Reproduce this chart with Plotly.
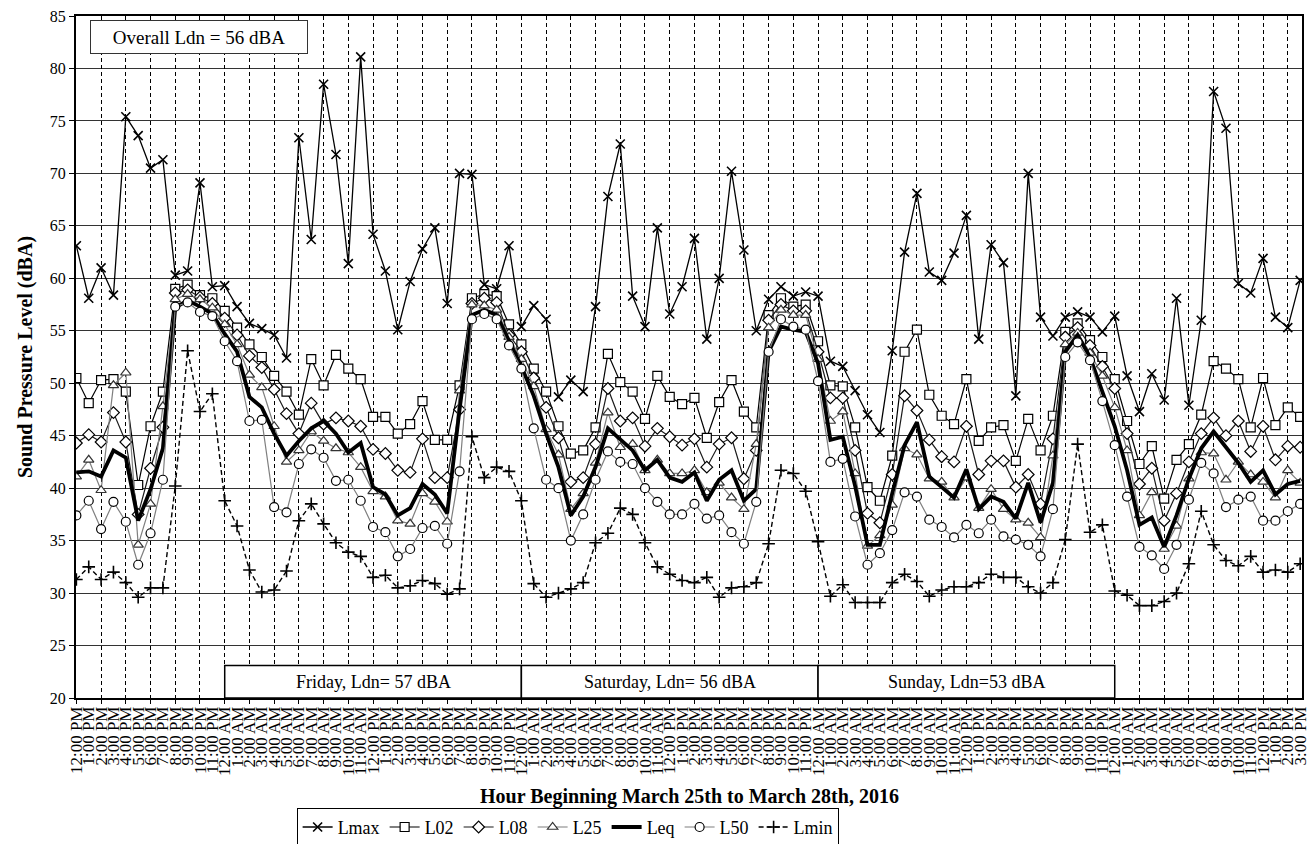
import plotly.graph_objects as go

# ---------------- data ----------------
hours = ["12:00 PM"] + [f"{h}:00 PM" for h in range(1, 12)] + ["12:00 AM"] + [f"{h}:00 AM" for h in range(1, 12)]
x_labels = (hours * 5)[:100]

lmax = [63.1, 58.1, 61.0, 58.4, 75.4, 73.6, 70.5, 71.3, 60.3, 60.7,
        69.1, 59.2, 59.3, 57.3, 55.7, 55.2, 54.6, 52.4, 73.4, 63.7,
        78.5, 71.8, 61.4, 81.1, 64.2, 60.7, 55.1, 59.7, 62.8, 64.8,
        57.6, 70.0, 69.9, 59.4, 59.0, 63.1, 55.4, 57.4, 56.1, 48.7,
        50.3, 49.2, 57.3, 67.8, 72.8, 58.3, 55.4, 64.8, 56.6, 59.2,
        63.8, 54.2, 60.0, 70.2, 62.7, 55.0, 58.0, 59.2, 58.3, 58.7,
        58.3, 52.1, 51.6, 49.3, 47.0, 45.3, 53.1, 62.5, 68.1, 60.6,
        59.8, 62.4, 66.0, 54.2, 63.2, 61.5, 48.8, 70.0, 56.3, 54.5,
        56.3, 56.8, 56.3, 54.9, 56.4, 50.7, 47.3, 50.9, 48.4, 58.1,
        47.9, 56.0, 77.8, 74.3, 59.5, 58.6, 61.9, 56.3, 55.3, 59.8]

l02 = [50.5, 48.1, 50.3, 50.4, 49.2, 40.3, 45.9, 49.2, 59.0, 59.4,
       58.4, 58.1, 56.9, 55.3, 53.7, 52.5, 50.7, 49.2, 47.0, 52.3,
       49.8, 52.7, 51.4, 50.4, 46.8, 46.8, 45.2, 46.1, 48.3, 44.6,
       44.6, 49.8, 58.1, 58.5, 58.3, 55.6, 53.7, 51.4, 49.2, 45.9,
       43.3, 43.6, 45.8, 52.8, 50.1, 49.2, 46.6, 50.7, 48.7, 48.0,
       48.6, 44.8, 48.2, 50.3, 47.3, 45.8, 56.5, 58.1, 57.3, 57.5,
       54.0, 49.8, 49.7, 45.8, 40.1, 38.8, 43.1, 53.0, 55.1, 48.9,
       46.9, 46.1, 50.4, 44.5, 45.8, 46.0, 42.6, 46.6, 43.6, 46.9,
       54.9, 55.7, 54.1, 52.5, 50.4, 46.4, 42.3, 44.0, 39.0, 42.7,
       44.2, 47.0, 52.1, 51.4, 50.4, 45.8, 50.5, 46.0, 47.7, 46.8]

l08 = [44.3, 45.1, 44.4, 47.2, 44.4, 37.5, 41.9, 45.8, 58.6, 58.9,
       58.2, 57.6, 56.2, 54.6, 52.6, 51.5, 49.4, 47.1, 45.2, 48.1,
       46.1, 46.7, 46.4, 45.9, 43.7, 43.3, 41.7, 41.5, 44.7, 41.0,
       41.0, 47.5, 57.6, 58.1, 57.7, 54.6, 53.0, 50.5, 47.7, 44.8,
       40.6, 41.0, 44.2, 49.5, 46.4, 46.7, 44.0, 45.7, 44.9, 44.1,
       44.7, 42.0, 44.2, 44.8, 40.9, 43.6, 56.0, 57.5, 56.9, 56.9,
       53.0, 48.6, 48.6, 43.6, 37.6, 36.7, 41.3, 48.8, 47.4, 44.6,
       43.0, 42.5, 45.9, 41.3, 42.6, 42.6, 40.1, 41.3, 38.5, 44.7,
       54.4, 55.3, 53.6, 51.6, 49.5, 45.2, 40.4, 41.9, 36.9, 39.5,
       42.5, 45.2, 46.7, 45.0, 46.4, 43.5, 45.9, 42.7, 44.0, 43.9]

l25 = [41.1, 42.7, 39.8, 49.8, 51.0, 34.6, 38.5, 47.8, 58.0, 58.5,
       58.0, 57.2, 55.6, 53.7, 50.8, 49.6, 45.9, 42.5, 43.6, 45.4,
       44.5, 43.8, 43.4, 42.0, 39.7, 39.2, 36.9, 36.6, 39.5, 38.7,
       36.8, 49.3, 57.5, 57.4, 57.0, 54.4, 52.3, 49.7, 45.6, 43.2,
       38.0, 39.5, 42.4, 47.2, 43.9, 44.2, 41.7, 42.7, 41.4, 41.4,
       41.7, 39.6, 40.5, 39.1, 38.0, 44.2, 55.3, 57.0, 56.5, 56.5,
       52.3, 46.4, 47.3, 41.4, 34.5, 35.5, 38.4, 43.8, 43.2, 40.9,
       40.6, 39.1, 41.0, 38.1, 39.9, 38.0, 37.0, 36.7, 35.3, 43.1,
       53.7, 54.8, 52.9, 50.7, 47.7, 43.6, 37.4, 39.6, 34.2, 36.4,
       40.9, 43.4, 43.3, 40.8, 42.5, 41.3, 40.6, 39.1, 41.7, 40.5]

leq = [41.5, 41.6, 41.1, 43.6, 42.9, 36.9, 39.9, 43.8, 57.2, 57.9,
       57.3, 56.6, 54.7, 53.0, 48.7, 47.7, 45.2, 43.1, 44.5, 45.7,
       46.4, 45.2, 43.4, 44.3, 40.1, 39.4, 37.4, 38.1, 40.4, 39.4,
       37.6, 47.5, 56.5, 57.0, 56.5, 54.0, 51.6, 48.8, 45.2, 42.0,
       37.4, 39.2, 42.0, 45.7, 44.7, 43.6, 41.7, 42.7, 41.0, 40.6,
       41.5, 38.8, 40.8, 41.7, 38.8, 39.9, 53.0, 55.4, 55.1, 54.9,
       51.9, 44.6, 44.9, 40.2, 34.6, 34.6, 39.5, 44.1, 46.3, 41.1,
       40.1, 39.1, 41.8, 38.0, 39.2, 38.7, 37.1, 40.5, 36.7, 40.5,
       53.0, 54.6, 52.5, 49.1, 45.9, 41.7, 36.5, 37.2, 34.4, 37.4,
       40.9, 43.8, 45.4, 43.9, 42.4, 40.6, 41.7, 39.4, 40.4, 40.7]

l50 = [37.4, 38.8, 36.1, 38.7, 36.8, 32.7, 35.7, 40.8, 57.3, 57.7,
       56.8, 56.4, 54.0, 52.1, 46.4, 46.5, 38.2, 37.7, 42.3, 43.7,
       42.9, 40.7, 40.8, 38.8, 36.3, 35.8, 33.5, 34.2, 36.2, 36.4,
       34.7, 41.6, 56.1, 56.6, 56.1, 53.6, 51.4, 45.7, 40.8, 40.0,
       35.0, 37.5, 40.8, 43.5, 42.5, 42.3, 40.0, 38.7, 37.5, 37.5,
       38.5, 37.1, 37.4, 35.8, 34.7, 38.7, 53.0, 56.1, 55.4, 55.1,
       50.2, 42.5, 42.8, 37.3, 32.7, 33.8, 36.0, 39.6, 39.2, 37.0,
       36.3, 35.3, 36.5, 35.7, 37.0, 35.4, 35.1, 34.6, 33.5, 38.0,
       52.5, 53.9, 52.2, 48.3, 44.1, 39.2, 34.4, 33.6, 32.3, 34.6,
       38.9, 42.4, 41.4, 38.2, 38.9, 39.2, 36.9, 36.9, 37.8, 38.5]

lmin = [31.3, 32.5, 31.3, 32.0, 31.0, 29.6, 30.5, 30.5, 40.2, 53.1,
        47.3, 49.0, 38.8, 36.4, 32.2, 30.1, 30.3, 32.1, 36.9, 38.5,
        36.6, 34.8, 33.9, 33.5, 31.5, 31.7, 30.5, 30.7, 31.2, 30.9,
        29.9, 30.4, 44.9, 41.0, 42.0, 41.6, 38.8, 30.9, 29.6, 30.0,
        30.4, 31.0, 34.8, 35.7, 38.1, 37.5, 34.8, 32.5, 31.8, 31.2,
        31.0, 31.5, 29.6, 30.5, 30.6, 31.0, 34.7, 41.7, 41.4, 39.7,
        34.9, 29.7, 30.8, 29.1, 29.1, 29.1, 31.0, 31.8, 31.1, 29.7,
        30.3, 30.6, 30.6, 31.0, 31.8, 31.5, 31.5, 30.6, 30.0, 31.0,
        35.1, 44.2, 35.8, 36.5, 30.2, 29.8, 28.8, 28.8, 29.2, 30.0,
        32.8, 37.8, 34.6, 33.1, 32.6, 33.5, 32.0, 32.2, 32.0, 32.8]

day_names = ["Friday, Ldn= 57 dBA", "Saturday, Ldn= 56 dBA", "Sunday, Ldn=53 dBA"]
overall_text = "Overall Ldn = 56 dBA"
y_ticks = list(range(20, 90, 5))

# ---------------- figure ----------------
FONT = "Liberation Serif, Times New Roman, serif"
xi = list(range(len(x_labels)))
XR = [-0.03, len(x_labels) - 1 + 0.15]

fig = go.Figure()

def add(name, y, symbol=None, msize=9, lcolor="black", lwidth=1.2, mline="black",
        mfill="white", dash="solid", mlw=1.2):
    mode = "lines+markers" if symbol else "lines"
    kw = dict(x=xi, y=y, name=name, mode=mode,
              line=dict(color=lcolor, width=lwidth, dash=dash))
    if symbol:
        kw["marker"] = dict(symbol=symbol, size=msize, color=mfill,
                            line=dict(color=mline, width=mlw))
    fig.add_trace(go.Scatter(**kw))

add("Lmax", lmax, "x-thin", 9, "black", 1.3, "black", "black", mlw=1.6)
add("L02", l02, "square", 9, "black", 1.2, "black")
add("L08", l08, "diamond", 9, "#1a1a1a", 1.2, "black")
add("L25", l25, "triangle-up", 9, "#7f7f7f", 1.2, "#333333")
add("Leq", leq, None, lcolor="black", lwidth=3.8)
add("L50", l50, "circle", 9, "#7f7f7f", 1.2, "black")
add("Lmin", lmin, "cross-thin", 9, "black", 1.4, "black", "black",
    dash="5px,3px", mlw=1.6)

# overlay axis carrying dashed 2-hour gridlines and tick marks
fig.add_trace(go.Scatter(x=xi, y=lmin, xaxis="x2", mode="lines",
                         line=dict(width=0), opacity=0, showlegend=False,
                         hoverinfo="skip"))

# day boxes (from midnight positions)
midnights = [i for i, s in enumerate(x_labels) if s == "12:00 AM"]
for k, name in enumerate(day_names):
    x0, x1 = midnights[k], midnights[k + 1]
    fig.add_shape(type="rect", xref="x", yref="y", x0=x0, x1=x1, y0=20, y1=23.1,
                  line=dict(color="black", width=1.5), fillcolor="white", layer="above")
    fig.add_annotation(xref="x", yref="y", x=(x0 + x1) / 2, y=21.55, text=name,
                       showarrow=False, font=dict(family=FONT, size=18, color="black"))

fig.add_annotation(xref="paper", yref="paper", x=0.0114, y=0.9941, xanchor="left",
                   yanchor="top", text=overall_text, showarrow=False, width=210, height=26,
                   bgcolor="white", bordercolor="#333333", borderwidth=1, borderpad=3,
                   font=dict(family=FONT, size=19, color="black"))

fig.add_annotation(xref="paper", yref="paper", x=0.5, y=-0.1437, yanchor="middle",
                   text="<b>Hour Beginning March 25th to March 28th, 2016</b>",
                   showarrow=False, font=dict(family=FONT, size=20, color="black"))

fig.update_layout(
    width=1312, height=844,
    margin=dict(l=76, r=10, t=16, b=146, autoexpand=False),
    paper_bgcolor="white", plot_bgcolor="white",
    font=dict(family=FONT, color="black"),
    showlegend=True,
    legend=dict(orientation="h", x=0.401, xanchor="center", y=-0.161, yanchor="top",
                bordercolor="black", borderwidth=1, bgcolor="white",
                font=dict(family=FONT, size=18, color="black"),
                itemwidth=30, tracegroupgap=0),
    xaxis=dict(range=XR, tickmode="array", tickvals=xi, ticktext=x_labels,
               tickangle=-90, tickfont=dict(family=FONT, size=17, color="black"),
               showgrid=False, zeroline=False, ticks="",
               showline=True, linecolor="black", linewidth=1.5, mirror=True),
    xaxis2=dict(range=XR, overlaying="x", side="bottom", tickmode="array",
                tickvals=xi[::2], showticklabels=False, ticks="outside", ticklen=5,
                tickcolor="black", showgrid=True, gridcolor="black", gridwidth=1,
                griddash="4px,3px", zeroline=False, showline=False),
    yaxis=dict(range=[20, 85], tickmode="array", tickvals=y_ticks,
               tickfont=dict(family=FONT, size=16, color="black"),
               showgrid=True, gridcolor="#333333", gridwidth=1, zeroline=False,
               ticks="outside", ticklen=5, tickcolor="black",
               showline=True, linecolor="black", linewidth=2, mirror=True,
               title=dict(text="<b>Sound Pressure Level (dBA)</b>",
                          font=dict(family=FONT, size=20, color="black"), standoff=12)),
)

fig.write_html("out.html", config={"displayModeBar": False},
               post_script="document.body.style.margin='0';document.body.style.overflow='hidden';")
